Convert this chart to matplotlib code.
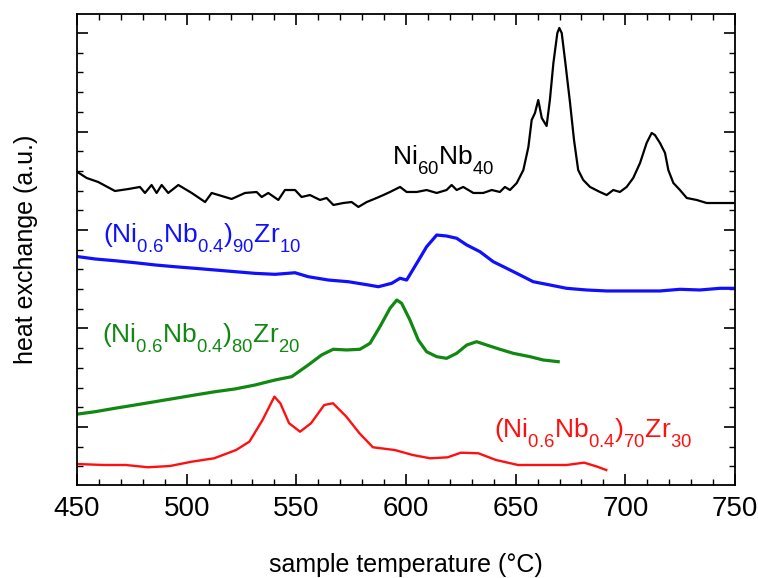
import matplotlib
matplotlib.use("Agg")
import matplotlib.pyplot as plt
from matplotlib.ticker import MultipleLocator
import matplotlib._mathtext as _mt

plt.rcParams['font.family'] = ['Liberation Sans', 'DejaVu Sans']
plt.rcParams['mathtext.fontset'] = 'custom'
plt.rcParams['mathtext.rm'] = 'Liberation Sans'
plt.rcParams['mathtext.it'] = 'Liberation Sans'
# drop subscripts a little lower, as in the reference
_mt.FontConstantsBase.sub1 = 0.75
_mt.FontConstantsBase.sub2 = 0.8

# ---- data (temperature in °C, heat exchange in a.u., curves offset) ----
t_black = [450.0, 454.4, 459.7, 467.3, 473.4, 478.7, 481.0, 484.0, 486.3, 488.6, 491.6, 496.2,
           502.3, 508.4, 511.4, 517.5, 520.5, 526.6, 531.9, 534.2, 537.2, 541.8, 544.8, 549.4,
           552.4, 556.2, 560.8, 563.8, 566.9, 571.4, 575.2, 578.3, 582.1, 586.6, 589.7, 592.7,
           597.3, 600.3, 604.9, 609.4, 614.0, 618.5, 620.8, 623.1, 626.1, 630.7, 635.2, 639.1,
           642.8, 645.1, 647.4, 650.5, 653.5, 655.8, 657.3, 658.8, 660.3, 661.9, 664.1, 665.6,
           667.2, 669.0, 669.9, 671.0, 672.5, 674.8, 676.6, 678.5, 680.8, 683.9, 688.4, 691.5,
           694.5, 697.5, 700.6, 703.6, 706.7, 709.7, 712.0, 713.5, 715.8, 718.1, 719.6, 721.9,
           724.9, 728.0, 732.5, 737.1, 741.7, 746.2, 749.3]
y_black = [2.592, 2.528, 2.487, 2.396, 2.416, 2.437, 2.376, 2.457, 2.376, 2.457, 2.376, 2.457,
           2.376, 2.284, 2.376, 2.335, 2.315, 2.376, 2.386, 2.335, 2.376, 2.305, 2.406, 2.406,
           2.335, 2.355, 2.305, 2.325, 2.254, 2.274, 2.284, 2.234, 2.284, 2.325, 2.355, 2.386,
           2.437, 2.386, 2.386, 2.406, 2.376, 2.406, 2.457, 2.406, 2.437, 2.376, 2.376, 2.406,
           2.386, 2.437, 2.406, 2.477, 2.609, 2.843, 3.117, 3.188, 3.320, 3.137, 3.056, 3.320,
           3.695, 4.000, 4.051, 4.000, 3.726, 3.289, 2.914, 2.609, 2.508, 2.437, 2.386, 2.355,
           2.406, 2.386, 2.437, 2.528, 2.680, 2.883, 2.985, 2.964, 2.883, 2.782, 2.609, 2.477,
           2.406, 2.325, 2.305, 2.274, 2.274, 2.274, 2.274]

t_blue = [450.6, 458.2, 467.3, 476.4, 485.6, 494.7, 503.8, 512.9, 522.0, 531.1, 540.3, 549.4,
          555.4, 564.6, 573.7, 582.8, 587.4, 593.5, 597.3, 600.3, 604.9, 609.4, 614.0, 618.5,
          623.1, 627.7, 633.7, 639.8, 645.9, 652.0, 658.0, 665.6, 673.2, 682.3, 691.5, 703.6,
          715.8, 724.9, 734.0, 743.1, 749.3]
y_blue = [1.729, 1.706, 1.688, 1.668, 1.645, 1.627, 1.611, 1.594, 1.577, 1.560, 1.550, 1.566,
          1.526, 1.492, 1.475, 1.442, 1.424, 1.459, 1.510, 1.492, 1.662, 1.830, 1.949, 1.939,
          1.916, 1.848, 1.780, 1.678, 1.611, 1.543, 1.475, 1.442, 1.408, 1.391, 1.381, 1.381,
          1.381, 1.398, 1.391, 1.408, 1.408]

t_green = [450.6, 458.2, 467.3, 476.4, 485.6, 494.7, 503.8, 512.9, 522.0, 531.1, 540.3, 547.9,
           555.4, 561.5, 566.8, 573.0, 579.0, 583.6, 588.1, 592.7, 595.8, 598.0, 601.8, 605.6,
           609.4, 614.0, 618.5, 623.1, 627.7, 632.2, 636.8, 642.8, 648.9, 656.5, 662.6, 669.4]
y_green = [0.132, 0.155, 0.190, 0.223, 0.257, 0.291, 0.325, 0.358, 0.386, 0.426, 0.477, 0.511,
           0.629, 0.731, 0.789, 0.782, 0.789, 0.850, 1.018, 1.205, 1.289, 1.256, 1.086, 0.883,
           0.764, 0.714, 0.697, 0.748, 0.832, 0.866, 0.832, 0.789, 0.748, 0.714, 0.680, 0.663]

t_red = [450.3, 462.3, 472.3, 482.4, 492.4, 502.4, 512.5, 522.5, 528.6, 534.6, 540.0, 542.7,
         546.7, 551.7, 556.7, 562.7, 566.7, 572.8, 578.8, 584.9, 594.9, 603.0, 611.0, 619.0,
         625.0, 633.0, 641.0, 651.1, 663.2, 673.2, 681.2, 687.2, 691.3]
y_red = [-0.376, -0.386, -0.386, -0.409, -0.396, -0.352, -0.318, -0.234, -0.149, 0.071, 0.308, 0.241,
         0.038, -0.048, 0.038, 0.223, 0.241, 0.105, -0.064, -0.206, -0.234, -0.284, -0.318, -0.308,
         -0.261, -0.267, -0.335, -0.386, -0.386, -0.386, -0.362, -0.403, -0.437]

labels = [r'$\mathregular{Ni_{60}Nb_{40}}$',
          r'$\mathregular{(Ni_{0.6}Nb_{0.4})_{90}Zr_{10}}$',
          r'$\mathregular{(Ni_{0.6}Nb_{0.4})_{80}Zr_{20}}$',
          r'$\mathregular{(Ni_{0.6}Nb_{0.4})_{70}Zr_{30}}$']
colors = ['black', '#1010ff', '#118811', '#ff1010']

fig = plt.figure(figsize=(7.58, 5.78), dpi=100)
ax = fig.add_axes([77/758, 1-485/578, (735-77)/758, (485-14)/578])

ax.plot(t_black, y_black, color=colors[0], lw=1.6)
ax.plot(t_blue, y_blue, color=colors[1], lw=2.3)
ax.plot(t_green, y_green, color=colors[2], lw=2.3)
ax.plot(t_red, y_red, color=colors[3], lw=1.7)

ax.set_xlim(450, 750)
ax.set_ylim(-0.589, 4.193)
ax.xaxis.set_major_locator(MultipleLocator(50))
ax.xaxis.set_minor_locator(MultipleLocator(10))
ax.yaxis.set_major_locator(MultipleLocator(1))
ax.yaxis.set_minor_locator(MultipleLocator(0.2))
ax.tick_params(which='both', direction='in', top=True, right=True, labelleft=False)
ax.tick_params(which='major', length=8, width=1.2, labelsize=20, pad=8)
ax.tick_params(which='minor', length=4.5, width=1.0)
for s in ax.spines.values():
    s.set_linewidth(1.3)

ax.text(593.6, 2.67, labels[0], color=colors[0], fontsize=19, va='baseline', ha='left')
ax.text(461.9, 1.868, labels[1], color=colors[1], fontsize=19, va='baseline', ha='left')
ax.text(461.3, 0.853, labels[2], color=colors[2], fontsize=19, va='baseline', ha='left')
ax.text(640.1, -0.102, labels[3], color=colors[3], fontsize=19, va='baseline', ha='left')

ax.set_xlabel('sample temperature (°C)', fontsize=18, labelpad=22)
ax.set_ylabel('heat exchange (a.u.)', fontsize=18, labelpad=28)

fig.savefig('out.png', dpi=100)
